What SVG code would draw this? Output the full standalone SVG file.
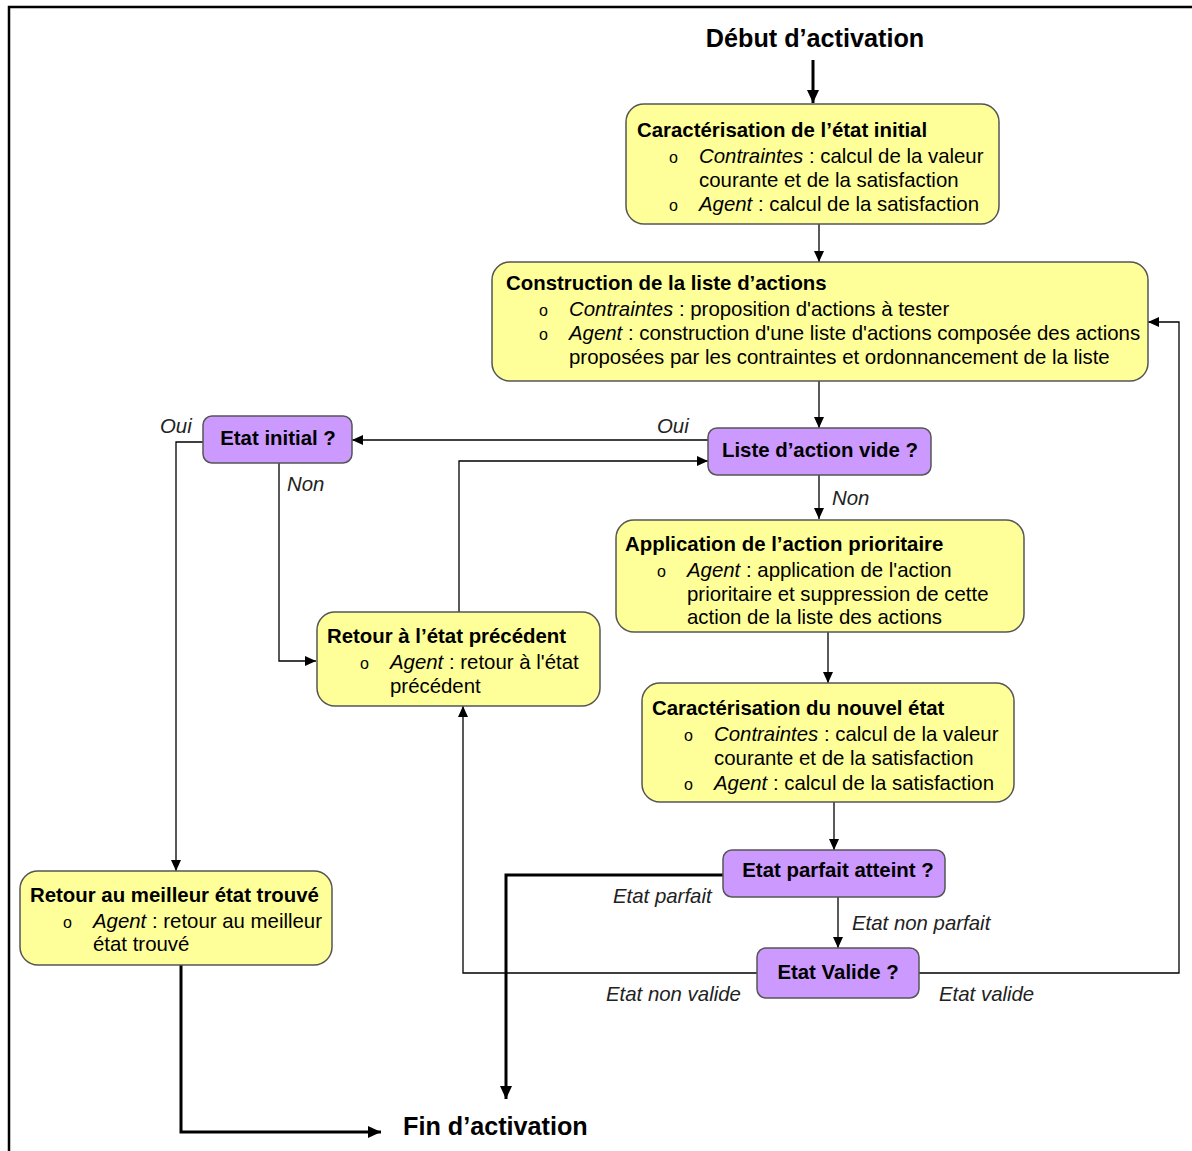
<svg xmlns="http://www.w3.org/2000/svg" width="1192" height="1151" viewBox="0 0 1192 1151">
<style>
text{font-family:"Liberation Sans",Arial,sans-serif;fill:#000}
.t{font-size:20.4px;font-weight:bold}
.b{font-size:20.4px}
.o{font-size:16px}
.i{font-style:italic}
.lab{font-size:20.4px;font-style:italic;fill:#222}
.big{font-size:25.2px;font-weight:bold}
.y{fill:#FFFF99;stroke:#555;stroke-width:1.5}
.p{fill:#CC99FF;stroke:#555;stroke-width:1.5}
.c{fill:none;stroke:#000;stroke-width:1.3}
.k{fill:none;stroke:#000;stroke-width:3}
</style>
<defs>
<marker id="a" markerUnits="userSpaceOnUse" markerWidth="12" markerHeight="10" refX="11" refY="5" orient="auto"><path d="M0,0 L11,5 L0,10 z" fill="#000"/></marker>
<marker id="ak" markerUnits="userSpaceOnUse" markerWidth="14" markerHeight="12" refX="13" refY="6" orient="auto"><path d="M0,0 L13,6 L0,12 z" fill="#000"/></marker>
</defs>
<rect width="1192" height="1151" fill="#fff"/>
<g id="frame"><path d="M9,1151 V7 H1192" fill="none" stroke="#000" stroke-width="2.5"/></g>

<g id="connectors">
<path class="k" d="M813,60 V103" marker-end="url(#ak)"/>
<path class="c" d="M819,224 V262" marker-end="url(#a)"/>
<path class="c" d="M819,381 V428" marker-end="url(#a)"/>
<path class="c" d="M708,440 H352" marker-end="url(#a)"/>
<path class="c" d="M203,442 H176 V871" marker-end="url(#a)"/>
<path class="c" d="M279,463 V661 H316" marker-end="url(#a)"/>
<path class="c" d="M459,612 V461 H708" marker-end="url(#a)"/>
<path class="c" d="M819,475 V519" marker-end="url(#a)"/>
<path class="c" d="M828,632 V683" marker-end="url(#a)"/>
<path class="c" d="M834,802 V850" marker-end="url(#a)"/>
<path class="k" d="M723,875 H506 V1099" marker-end="url(#ak)"/>
<path class="c" d="M838,897 V948" marker-end="url(#a)"/>
<path class="c" d="M757,973 H463 V706" marker-end="url(#a)"/>
<path class="c" d="M919,973 H1179 V322 H1148" marker-end="url(#a)"/>
<path class="k" d="M181,965 V1132 H381" marker-end="url(#ak)"/>
<text class="lab" x="657" y="433">Oui</text>
<text class="lab" x="160" y="433">Oui</text>
<text class="lab" x="287" y="491">Non</text>
<text class="lab" x="832" y="505">Non</text>
<text class="lab" x="613" y="903">Etat parfait</text>
<text class="lab" x="852" y="930">Etat non parfait</text>
<text class="lab" x="606" y="1001">Etat non valide</text>
<text class="lab" x="939" y="1001">Etat valide</text>
</g>

<g id="debut"><text class="big" x="815" y="47" text-anchor="middle">Début d’activation</text></g>

<g id="car-init">
<rect class="y" x="626" y="104" width="373" height="120" rx="18"/>
<text class="t" x="637" y="137">Caractérisation de l’état initial</text>
<text class="o" x="669" y="163">o</text>
<text class="b" x="699" y="163"><tspan class="i">Contraintes</tspan> : calcul de la valeur</text>
<text class="b" x="699" y="187">courante et de la satisfaction</text>
<text class="o" x="669" y="211">o</text>
<text class="b" x="699" y="211"><tspan class="i">Agent</tspan> : calcul de la satisfaction</text>
</g>

<g id="construction">
<rect class="y" x="492" y="262" width="656" height="119" rx="18"/>
<text class="t" x="506" y="290">Construction de la liste d’actions</text>
<text class="o" x="539" y="316">o</text>
<text class="b" x="569" y="316"><tspan class="i">Contraintes</tspan> : proposition d'actions à tester</text>
<text class="o" x="539" y="340">o</text>
<text class="b" x="569" y="340"><tspan class="i">Agent</tspan> : construction d'une liste d'actions composée des actions</text>
<text class="b" x="569" y="364">proposées par les contraintes et ordonnancement de la liste</text>
</g>

<g id="liste-vide">
<rect class="p" x="708" y="428" width="223" height="47" rx="9"/>
<text class="t" x="820" y="457" text-anchor="middle">Liste d’action vide ?</text>
</g>

<g id="etat-initial">
<rect class="p" x="203" y="416" width="149" height="47" rx="9"/>
<text class="t" x="278" y="445" text-anchor="middle">Etat initial ?</text>
</g>

<g id="application">
<rect class="y" x="616" y="520" width="408" height="112" rx="18"/>
<text class="t" x="625" y="551">Application de l’action prioritaire</text>
<text class="o" x="657" y="577">o</text>
<text class="b" x="687" y="577"><tspan class="i">Agent</tspan> : application de l'action</text>
<text class="b" x="687" y="601">prioritaire et suppression de cette</text>
<text class="b" x="687" y="624">action de la liste des actions</text>
</g>

<g id="retour-prec">
<rect class="y" x="317" y="612" width="283" height="94" rx="18"/>
<text class="t" x="327" y="643">Retour à l’état précédent</text>
<text class="o" x="360" y="669">o</text>
<text class="b" x="390" y="669"><tspan class="i">Agent</tspan> : retour à l'état</text>
<text class="b" x="390" y="693">précédent</text>
</g>

<g id="car-nouvel">
<rect class="y" x="642" y="683" width="372" height="119" rx="18"/>
<text class="t" x="652" y="715">Caractérisation du nouvel état</text>
<text class="o" x="684" y="741">o</text>
<text class="b" x="714" y="741"><tspan class="i">Contraintes</tspan> : calcul de la valeur</text>
<text class="b" x="714" y="765">courante et de la satisfaction</text>
<text class="o" x="684" y="790">o</text>
<text class="b" x="714" y="790"><tspan class="i">Agent</tspan> : calcul de la satisfaction</text>
</g>

<g id="etat-parfait">
<rect class="p" x="723" y="850" width="222" height="47" rx="9"/>
<text class="t" x="838" y="877" text-anchor="middle">Etat parfait atteint ?</text>
</g>

<g id="etat-valide">
<rect class="p" x="757" y="948" width="162" height="50" rx="9"/>
<text class="t" x="838" y="979" text-anchor="middle">Etat Valide ?</text>
</g>

<g id="retour-meilleur">
<rect class="y" x="20" y="871" width="312" height="94" rx="18"/>
<text class="t" x="30" y="902">Retour au meilleur état trouvé</text>
<text class="o" x="63" y="928">o</text>
<text class="b" x="93" y="928"><tspan class="i">Agent</tspan> : retour au meilleur</text>
<text class="b" x="93" y="951">état trouvé</text>
</g>

<g id="fin"><text class="big" x="403" y="1135">Fin d’activation</text></g>
</svg>
